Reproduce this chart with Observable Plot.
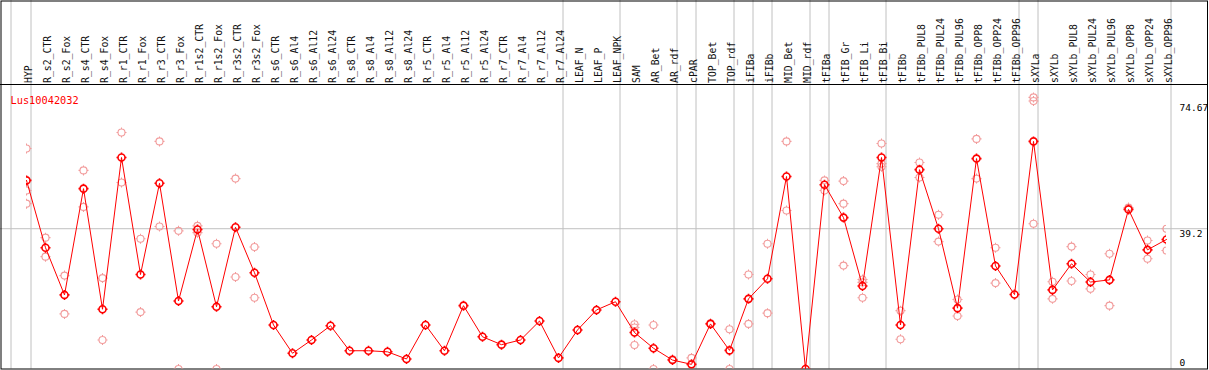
<!DOCTYPE html>
<html>
<head>
<meta charset="utf-8">
<script src="https://cdn.jsdelivr.net/npm/d3@7"></script>
<script src="https://cdn.jsdelivr.net/npm/@observablehq/plot@0.6"></script>
<style>
  html, body { margin: 0; padding: 0; background: #fff; }
  #chart svg { display: block; }
</style>
</head>
<body>
<div id="chart"></div>
<script>
const geneName = "Lus10042032";

const categories = [
  "HYP", "R_s2_CTR", "R_s2_Fox", "R_s4_CTR", "R_s4_Fox", "R_r1_CTR", "R_r1_Fox",
  "R_r3_CTR", "R_r3_Fox", "R_r1s2_CTR", "R_r1s2_Fox", "R_r3s2_CTR", "R_r3s2_Fox",
  "R_s6_CTR", "R_s6_Al4", "R_s6_Al12", "R_s6_Al24", "R_s8_CTR", "R_s8_Al4", "R_s8_Al12",
  "R_s8_Al24", "R_r5_CTR", "R_r5_Al4", "R_r5_Al12", "R_r5_Al24", "R_r7_CTR", "R_r7_Al4",
  "R_r7_Al12", "R_r7_Al24", "LEAF_N", "LEAF_P", "LEAF_NPK", "SAM", "AR_Bet", "AR_rdf",
  "cPAR", "TOP_Bet", "TOP_rdf", "iFIBa", "iFIBb", "MID_Bet", "MID_rdf", "tFIBa",
  "tFIB_Gr", "tFIB_Li", "tFIB_Bi", "tFIBb", "tFIBb_PUL8", "tFIBb_PUL24", "tFIBb_PUL96",
  "tFIBb_OPP8", "tFIBb_OPP24", "tFIBb_OPP96", "sXYLa", "sXYLb", "sXYLb_PUL8",
  "sXYLb_PUL24", "sXYLb_PUL96", "sXYLb_OPP8", "sXYLb_OPP24", "sXYLb_OPP96"
];

// mean expression per sample (red line)
const means = [
  52.7, 33.9, 20.7, 50.4, 16.7, 59.1, 26.4, 51.9, 19.0, 39.0, 17.4, 39.6, 26.9,
  12.3, 4.4, 8.1, 12.1, 5.1, 5.1, 4.8, 2.8, 12.3, 5.1, 17.7, 9.0, 6.8, 8.1,
  13.4, 3.1, 10.9, 16.5, 18.8, 10.2, 5.8, 2.5, 1.3, 12.6, 5.2, 19.6, 25.2,
  53.8, 0, 51.5, 42.3, 23.2, 59.1, 12.3, 55.7, 39.2, 17.0, 58.8, 28.8, 20.8,
  63.6, 22.1, 29.4, 24.3, 24.9, 44.6, 33.3, 36.2
];

// individual replicates (light circles), aligned with categories
const replicates = [
  [61.6, 49.9, 46.2], [36.7, 31.4], [26.1, 15.4], [55.5, 45.3], [25.4, 8.1],
  [66.1, 52.1], [36.4, 15.9], [63.6, 39.8], [38.6, 0], [40.0, 38.1], [35.0, 0],
  [53.2, 25.7], [34.1, 19.9],
  [], [], [], [], [], [], [], [], [], [], [], [], [], [], [], [], [], [], [],
  [12.5, 11.6, 6.7], [12.3, 0], [2.7], [3.1], [12.8], [11.1, 0],
  [26.4, 12.6], [35.0, 15.6], [63.6, 44.3], [],
  [52.7, 49.9], [52.5, 46.2, 28.9], [25.0, 24.2, 19.9], [63.0, 57.4, 56.5],
  [16.3, 8.3], [57.7, 53.5], [43.1, 35.6], [19.4, 14.8], [64.3, 53.2], [33.9, 24.0], [],
  [75.9, 74.9, 40.6], [24.4, 19.6], [34.2, 24.6], [26.4, 22.4], [32.2, 17.7],
  [45.1], [35.9, 30.8], [39.2, 33.1]
];

// group separators: vertical lines drawn right after these samples
const groupEnds = [
  "HYP", "R_r7_Al24", "LEAF_NPK", "AR_rdf", "cPAR", "TOP_rdf", "iFIBa", "iFIBb",
  "MID_rdf", "tFIBa", "tFIB_Bi", "tFIBb_OPP96", "sXYLa", "sXYLb_OPP96"
];
const firstGroupStart = ["HYP"];

const yTicks = [0, 39.2, 74.67];
const gridValues = [39.2];

const meanData = categories.map((c, i) => ({cat: c, value: means[i]}));
const repData = categories.flatMap((c, i) => replicates[i].map(v => ({cat: c, value: v})));

const tickedCircle = {
  draw(context, size) {
    const r = Math.sqrt(size / Math.PI);
    const t = r + 1.5;
    context.moveTo(r, 0);
    context.arc(0, 0, r, 0, 2 * Math.PI);
    context.moveTo(0, -r); context.lineTo(0, -t);
    context.moveTo(0, r); context.lineTo(0, t);
    context.moveTo(-r, 0); context.lineTo(-t, 0);
    context.moveTo(r, 0); context.lineTo(t, 0);
  }
};

const mono = "'DejaVu Sans Mono', monospace";
const grid = "#c0c0c0";

const chart = Plot.plot({
  width: 1209,
  height: 370,
  marginLeft: 26,
  marginRight: 43,
  marginTop: 84,
  marginBottom: 1.5,
  style: {background: "#fff", fontFamily: mono},
  x: {type: "point", domain: categories, padding: 0, axis: null},
  y: {domain: [0, 79.5], axis: null},
  marks: [
    // grid lines
    Plot.ruleY(gridValues, {stroke: grid, strokeWidth: 1, insetLeft: -26, insetRight: -41}),
    Plot.ruleX(groupEnds, {stroke: grid, strokeWidth: 1, dx: 4.5, insetTop: -84}),
    Plot.ruleX(firstGroupStart, {stroke: grid, strokeWidth: 1, dx: -15.5, insetTop: -84}),
    // header separator
    Plot.ruleY([79.5], {stroke: "black", strokeWidth: 1, insetLeft: -26, insetRight: -41}),
    // outer border
    Plot.frame({stroke: "black", strokeWidth: 1, insetTop: -83.5, insetLeft: -25.5, insetRight: -41, insetBottom: 0}),
    // sample labels
    Plot.text(categories, {
      x: d => d, frameAnchor: "top", rotate: -90, textAnchor: "start",
      lineAnchor: "middle", dx: 2.5, dy: -1.5, fontSize: 9.8, fontFamily: mono, fill: "#111"
    }),
    // gene name
    Plot.text([geneName], {
      frameAnchor: "top-left", dx: -16, dy: 12, textAnchor: "start",
      fill: "red", fontSize: 10.3, fontFamily: mono
    }),
    // y tick labels (right)
    Plot.text(yTicks.filter(v => v > 0), {
      y: d => d, text: d => String(d), frameAnchor: "right", dx: 13, dy: 2,
      textAnchor: "start", lineAnchor: "top", fontSize: 9.5, fontFamily: mono, fill: "black"
    }),
    Plot.text(yTicks.filter(v => v === 0), {
      y: d => d, text: d => String(d), frameAnchor: "right", dx: 13, dy: -3.5,
      textAnchor: "start", lineAnchor: "bottom", fontSize: 9.5, fontFamily: mono, fill: "black"
    }),
    // replicates
    Plot.dot(repData, {
      x: "cat", y: "value", r: 3.5, symbol: tickedCircle, fill: "none",
      stroke: "#f29c9c", strokeWidth: 1.1, clip: true
    }),
    // mean line
    Plot.line(meanData, {x: "cat", y: "value", stroke: "red", strokeWidth: 1}),
    // mean markers
    Plot.dot(meanData, {
      x: "cat", y: "value", r: 3.5, symbol: tickedCircle, fill: "none",
      stroke: "red", strokeWidth: 1.6, clip: true
    })
  ]
});

document.getElementById("chart").appendChild(chart);
</script>
</body>
</html>
